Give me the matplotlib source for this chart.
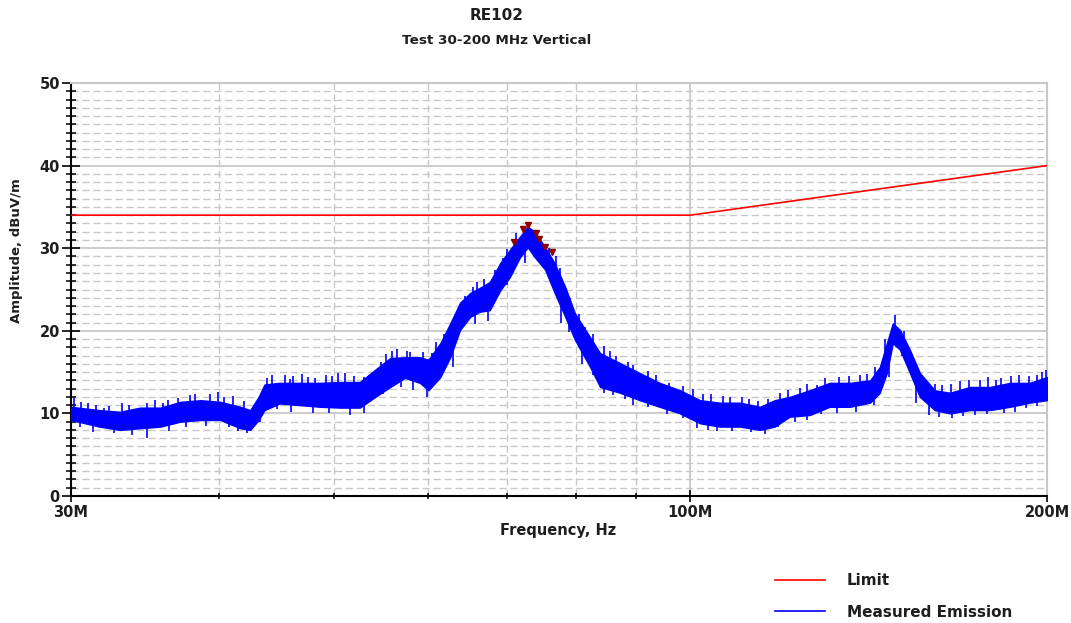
import matplotlib.pyplot as plt
from matplotlib.lines import Line2D
from matplotlib.ticker import FixedLocator, FixedFormatter, NullFormatter

plt.rcParams['font.family'] = ['DejaVu Sans']
plt.rcParams['font.weight'] = 'bold'

# Limit line (MHz, dBuV/m)
limit_freq = [30, 100, 200]
limit_db = [34, 34, 40]

# Measured emission band (MHz, upper / lower edge dBuV/m)
freq = [30.0, 31.7, 33.0, 34.3, 35.7, 37.1, 38.6, 40.1, 41.7, 42.5, 43.2, 43.7,
        45.0, 46.8, 48.7, 50.6, 52.6, 54.2, 55.8, 57.4, 59.1, 60.1, 61.5, 62.7,
        63.9, 65.2, 66.4, 67.7, 69.1, 70.4, 71.8, 72.9, 73.9, 75.4, 76.8, 78.4,
        79.9, 82.3, 83.9, 87.2, 90.6, 94.2, 98.0, 101.9, 105.9, 110.1, 114.5,
        117.8, 121.3, 126.1, 131.1, 136.3, 141.8, 144.5, 146.5, 148.2, 150.3,
        153.2, 156.2, 160.8, 165.6, 172.2, 179.0, 186.1, 193.4, 200.0]
hi = [10.8, 10.4, 10.2, 10.7, 10.7, 11.4, 11.6, 11.4, 10.8, 10.4, 12.0, 13.5,
      13.7, 13.7, 13.7, 13.8, 13.8, 15.3, 16.7, 16.8, 16.8, 16.5, 18.5, 20.9,
      23.4, 24.6, 25.2, 25.9, 28.2, 29.8, 31.4, 32.6, 32.0, 30.1, 28.2, 25.3,
      22.1, 19.2, 17.3, 16.1, 14.9, 13.7, 12.8, 11.6, 11.3, 11.3, 10.8,
      11.6, 12.0, 12.8, 13.7, 13.7, 14.0, 15.6, 18.5, 20.9, 20.1,
      17.7, 14.9, 12.8, 12.5, 13.2, 13.2, 13.7, 13.7, 14.4]
lo = [9.2, 8.4, 8.0, 8.2, 8.4, 9.0, 9.2, 9.2, 8.2, 8.0, 9.2, 10.4,
      11.2, 11.0, 10.8, 10.7, 10.7, 12.0, 13.2, 14.3, 13.7, 12.8, 14.4, 16.8,
      20.1, 21.7, 22.3, 22.5, 24.9, 26.5, 28.9, 30.1, 28.9, 27.4, 24.6, 21.7,
      18.9, 15.6, 13.2, 12.5, 11.6, 10.8, 10.0, 8.8, 8.4, 8.4, 8.0,
      8.4, 9.6, 9.8, 10.8, 10.8, 11.3, 12.5, 14.9, 18.5, 17.7,
      14.9, 12.0, 10.4, 10.0, 10.4, 10.4, 10.8, 11.3, 11.6]

# noise spikes sticking out of the band
up_freq = [30.2, 30.6, 31.0, 31.5, 32.0, 32.3, 33.1, 33.6, 34.8, 35.3, 35.9,
           36.2, 36.9, 37.8, 38.2, 39.3, 39.9, 40.4, 41.1, 42.0,
           43.9, 44.3, 45.5, 45.9, 46.2, 47.0, 47.6, 48.2, 49.2, 49.8, 50.4,
           51.1, 52.0, 53.0, 53.5, 54.8, 55.3, 56.0, 56.5, 57.7, 58.0, 59.5,
           60.5, 61.0, 62.0, 63.3, 64.5, 65.5, 66.0, 67.0, 68.4, 69.5, 70.0,
           71.3, 75.9, 77.0, 77.6, 79.2, 80.6, 81.5, 82.7, 84.5, 85.5, 86.5,
           88.6, 89.5, 92.0, 93.5, 96.0, 98.5, 100.5, 102.5, 104.0, 106.5,
           108.0, 110.5, 112.0, 114.0, 116.2, 119.0, 121.0, 123.7, 125.5,
           127.9, 130.0, 133.5, 136.0, 139.0, 141.0, 143.2, 146.0, 148.8,
           151.5, 155.0, 158.5, 161.0, 163.0, 166.0, 169.0, 172.0, 175.5,
           178.3, 181.0, 183.0, 186.5, 189.5, 193.0, 196.0, 198.0, 199.5]
up_db = [11.9, 11.4, 11.3, 11.0, 10.7, 10.9, 11.2, 11.0, 11.3, 11.6, 11.2,
         11.6, 11.9, 12.2, 12.4, 12.3, 12.6, 12.0, 12.1, 11.5,
         14.3, 14.6, 14.6, 14.2, 14.5, 14.8, 14.4, 14.3, 14.6, 14.5, 14.9,
         14.9, 14.5, 14.4, 14.7, 16.2, 17.2, 17.6, 17.8, 17.6, 17.4, 17.4,
         17.3, 18.6, 19.6, 22.0, 24.2, 25.3, 25.9, 26.3, 27.4, 28.8, 29.9,
         31.8, 30.0, 29.0, 27.6, 24.0, 22.0, 20.5, 19.6, 18.1, 17.6, 17.0,
         16.2, 15.8, 15.1, 14.6, 13.7, 13.3, 12.9, 12.3, 12.3, 12.1,
         12.0, 12.0, 11.8, 11.5, 11.8, 12.5, 12.8, 13.1, 13.6,
         13.4, 14.3, 14.4, 14.5, 14.7, 14.8, 15.6, 19.0, 21.9,
         20.0, 15.8, 13.8, 13.6, 13.4, 13.5, 13.9, 14.0, 14.1,
         14.4, 14.0, 14.3, 14.5, 14.6, 14.5, 14.7, 15.0, 15.3]
dn_freq = [30.5, 31.3, 32.6, 33.8, 34.8, 36.3, 37.5, 39.0, 40.8, 41.5, 42.2,
           43.3, 44.8, 46.0, 48.0, 49.5, 51.6, 53.0, 55.0, 57.0, 58.3, 59.9,
           61.0, 63.0, 65.8, 67.5, 70.0, 72.5, 75.8, 77.8, 79.0, 81.0, 82.7,
           84.5, 86.0, 88.0, 89.5, 92.0, 95.5, 98.5, 101.3, 103.5, 105.3,
           108.5, 112.5, 115.5, 118.5, 122.5, 125.5, 129.0, 133.0, 138.0,
           143.0, 147.0, 151.0, 155.0, 159.0, 162.0, 166.2, 170.0, 174.0,
           178.0, 184.0, 188.0, 192.0, 196.0]
dn_db = [8.4, 7.8, 7.6, 7.4, 7.0, 7.9, 8.3, 8.5, 8.4, 7.9, 7.6,
         8.9, 10.5, 10.2, 10.0, 10.0, 9.8, 10.0, 12.4, 13.2, 12.8, 12.0,
         13.8, 15.6, 20.8, 21.2, 25.5, 28.2, 26.6, 21.0, 19.8, 16.0, 14.6,
         12.5, 12.2, 11.8, 11.0, 10.8, 9.9, 9.4, 8.2, 8.0, 7.9,
         7.9, 7.8, 7.5, 8.3, 9.0, 9.2, 9.9, 10.1, 10.2,
         11.0, 14.4, 17.0, 11.3, 9.8, 9.6, 9.4, 9.7, 9.8,
         9.9, 10.1, 10.2, 10.6, 10.9]

# peak markers
peak_freq = [71.0, 72.2, 72.9, 74.1, 74.5, 75.4, 76.4]
peak_db = [30.75, 32.3, 32.8, 31.8, 31.1, 30.1, 29.5]

x_major = [30, 100, 200]
x_major_labels = ['30M', '100M', '200M']
x_minor = [40, 50, 60, 70, 80, 90]

grid_col = '#c8c8c8'
txt_col = '#1e1e1e'

fig = plt.figure(figsize=(10.71, 6.23), dpi=100)
ax = fig.add_axes([71 / 1071, 1 - 496 / 623, 976 / 1071, 413 / 623])
ax.set_xscale('log')
ax.set_xlim(30, 200)
ax.set_ylim(0, 50)

ax.fill_between(freq, lo, hi, color='#0000ff', lw=1.0, zorder=3)
ax.vlines(up_freq, [v - 2.0 for v in up_db], up_db, color='#0000ff', lw=1.2, zorder=3)
ax.vlines(dn_freq, dn_db, [v + 2.0 for v in dn_db], color='#0000ff', lw=1.2, zorder=3)
ax.plot(limit_freq, limit_db, color='#ff0000', lw=1.2, zorder=4)
ax.plot(peak_freq, peak_db, ls='none', marker='v', ms=4, color='#8b0000', zorder=5)

ax.xaxis.set_major_locator(FixedLocator(x_major))
ax.xaxis.set_major_formatter(FixedFormatter(x_major_labels))
ax.xaxis.set_minor_locator(FixedLocator(x_minor))
ax.xaxis.set_minor_formatter(NullFormatter())
ax.yaxis.set_major_locator(FixedLocator(range(0, 51, 10)))
ax.yaxis.set_minor_locator(FixedLocator(range(0, 51)))

ax.set_axisbelow(True)
ax.grid(which='major', color=grid_col, lw=1.3, ls='-')
ax.grid(which='minor', color=grid_col, lw=1.0, ls=(0, (5.2, 2.7)))

ax.tick_params(axis='y', which='major', direction='inout', length=13, width=1.2,
               color='black', pad=1.5, labelsize=10.5, labelcolor=txt_col)
ax.tick_params(axis='y', which='minor', direction='inout', length=6.5, width=1.1,
               color='black')
ax.tick_params(axis='x', which='major', direction='inout', length=8, width=1.2,
               color='black', pad=2.5, labelsize=10.5, labelcolor=txt_col)
ax.tick_params(axis='x', which='minor', direction='inout', length=4.5, width=1.1,
               color='black')

for side in ['left', 'bottom']:
    ax.spines[side].set_color('black')
    ax.spines[side].set_linewidth(1.5)
for side in ['top', 'right']:
    ax.spines[side].set_color(grid_col)
    ax.spines[side].set_linewidth(1.5)

fig.text(497 / 1071, 1 - 15 / 623, 'RE102', ha='center', va='center',
         fontsize=11, color=txt_col)
fig.text(497 / 1071, 1 - 41 / 623, 'Test 30-200 MHz Vertical', ha='center',
         va='center', fontsize=9.7, color=txt_col)
fig.text(558 / 1071, 1 - 530 / 623, 'Frequency, Hz', ha='center', va='center',
         fontsize=10.5, color=txt_col)
fig.text(17 / 1071, 1 - 251 / 623, 'Amplitude, dBuV/m', ha='center', va='center',
         rotation=90, fontsize=9.5, color=txt_col)

handles = [Line2D([], [], color='#ff0000', lw=1.2),
           Line2D([], [], color='#0000ff', lw=1.2)]
fig.legend(handles, ['Limit', 'Measured Emission'], loc='upper left',
           bbox_to_anchor=(775 / 1071, 1 - 573 / 623), frameon=False,
           handlelength=3.3, handletextpad=1.4, labelspacing=1.1,
           fontsize=11, borderpad=0, borderaxespad=0, labelcolor=txt_col)

fig.savefig('out.png', dpi=100)
